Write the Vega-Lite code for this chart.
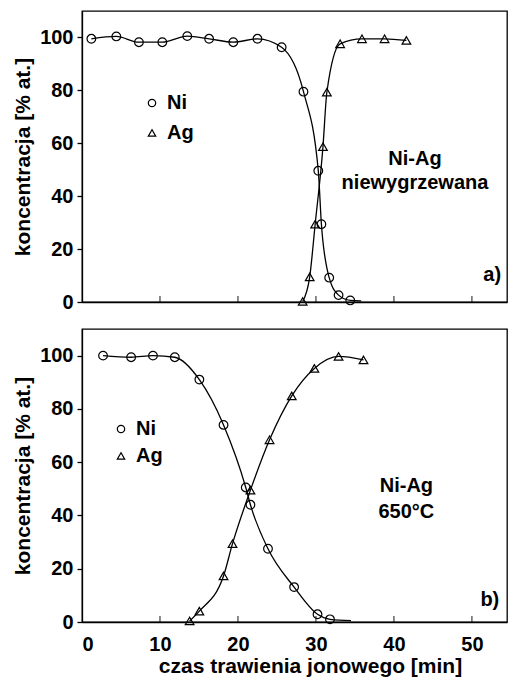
{
  "$schema": "https://vega.github.io/schema/vega-lite/v6.json",
  "padding": {"left": 11, "top": 10, "right": 0, "bottom": 0},
  "spacing": 15,
  "datasets": {
    "a": [
      {"el": "Ni", "t": 1.2, "c": 99.5, "m": 1},
      {"el": "Ni", "t": 4.4, "c": 100.4, "m": 1},
      {"el": "Ni", "t": 7.3, "c": 98.2, "m": 1},
      {"el": "Ni", "t": 10.3, "c": 98.2, "m": 1},
      {"el": "Ni", "t": 13.5, "c": 100.5, "m": 1},
      {"el": "Ni", "t": 16.3, "c": 99.5, "m": 1},
      {"el": "Ni", "t": 19.4, "c": 98.2, "m": 1},
      {"el": "Ni", "t": 22.5, "c": 99.5, "m": 1},
      {"el": "Ni", "t": 25.6, "c": 96.3, "m": 1},
      {"el": "Ni", "t": 28.4, "c": 79.5, "m": 1},
      {"el": "Ni", "t": 30.3, "c": 49.6, "m": 1},
      {"el": "Ni", "t": 30.7, "c": 29.4, "m": 1},
      {"el": "Ni", "t": 31.7, "c": 9.2, "m": 1},
      {"el": "Ni", "t": 32.9, "c": 2.6, "m": 1},
      {"el": "Ni", "t": 34.4, "c": 0.6, "m": 1},
      {"el": "Ni", "t": 35.8, "c": 0.4, "m": 0},
      {"el": "Ag", "t": 28.3, "c": 0.2, "m": 1},
      {"el": "Ag", "t": 29.2, "c": 9.5, "m": 1},
      {"el": "Ag", "t": 29.9, "c": 29.4, "m": 1},
      {"el": "Ag", "t": 30.9, "c": 58.7, "m": 1},
      {"el": "Ag", "t": 31.4, "c": 79.3, "m": 1},
      {"el": "Ag", "t": 33.1, "c": 97.6, "m": 1},
      {"el": "Ag", "t": 35.9, "c": 99.5, "m": 1},
      {"el": "Ag", "t": 38.8, "c": 99.5, "m": 1},
      {"el": "Ag", "t": 41.6, "c": 98.9, "m": 1}
    ],
    "b": [
      {"el": "Ni", "t": 2.7, "c": 100, "m": 1},
      {"el": "Ni", "t": 6.3, "c": 99.4, "m": 1},
      {"el": "Ni", "t": 9.1, "c": 100, "m": 1},
      {"el": "Ni", "t": 11.9, "c": 99.4, "m": 1},
      {"el": "Ni", "t": 15.05, "c": 91, "m": 1},
      {"el": "Ni", "t": 18.15, "c": 74, "m": 1},
      {"el": "Ni", "t": 21.0, "c": 50.5, "m": 1},
      {"el": "Ni", "t": 21.6, "c": 44, "m": 1},
      {"el": "Ni", "t": 23.85, "c": 27.5, "m": 1},
      {"el": "Ni", "t": 27.2, "c": 13.1, "m": 1},
      {"el": "Ni", "t": 30.2, "c": 2.9, "m": 1},
      {"el": "Ni", "t": 31.8, "c": 1.0, "m": 1},
      {"el": "Ni", "t": 34.5, "c": 0.5, "m": 0},
      {"el": "Ag", "t": 13.8, "c": 0.4, "m": 1},
      {"el": "Ag", "t": 15.05, "c": 4.1, "m": 1},
      {"el": "Ag", "t": 18.15, "c": 17.3, "m": 1},
      {"el": "Ag", "t": 19.3, "c": 29.4, "m": 1},
      {"el": "Ag", "t": 21.6, "c": 49.5, "m": 1},
      {"el": "Ag", "t": 24.05, "c": 68.4, "m": 1},
      {"el": "Ag", "t": 26.9, "c": 84.9, "m": 1},
      {"el": "Ag", "t": 29.8, "c": 95.2, "m": 1},
      {"el": "Ag", "t": 32.9, "c": 99.7, "m": 1},
      {"el": "Ag", "t": 36.1, "c": 98.4, "m": 1}
    ],
    "xticks": [{"t": 10}, {"t": 20}, {"t": 30}, {"t": 40}, {"t": 50}],
    "notesA": [
      {"t": 42.7, "c": 54.2, "label": "Ni-Ag"},
      {"t": 42.7, "c": 45.0, "label": "niewygrzewana"},
      {"t": 52.6, "c": 10.2, "label": "a)"}
    ],
    "notesB": [
      {"t": 41.6, "c": 51.0, "label": "Ni-Ag"},
      {"t": 41.6, "c": 41.2, "label": "650°C"},
      {"t": 52.3, "c": 8.2, "label": "b)"}
    ]
  },
  "vconcat": [
    {
      "width": 425,
      "height": 291,
      "layer": [
        {
          "data": {"name": "a"},
          "mark": {"type": "line", "color": "black", "strokeWidth": 1.3, "interpolate": "monotone"},
          "encoding": {
            "x": {"field": "t", "type": "quantitative", "scale": {"domain": [0, 54.5], "nice": false},
              "axis": {"labels": false, "title": null, "ticks": false, "grid": false}},
            "y": {"field": "c", "type": "quantitative", "scale": {"domain": [0, 110], "nice": false},
              "axis": {"title": "koncentracja [% at.]", "values": [0, 20, 40, 60, 80, 100], "grid": false, "tickSize": 5, "labelPadding": 4, "titlePadding": 6}},
            "detail": {"field": "el"}
          }
        },
        {
          "data": {"name": "xticks"},
          "mark": {"type": "tick", "orient": "vertical", "color": "black", "size": 6, "thickness": 1.3, "yOffset": -3},
          "encoding": {
            "x": {"field": "t", "type": "quantitative"},
            "y": {"datum": 0, "type": "quantitative"}
          }
        },
        {
          "data": {"name": "a"},
          "transform": [{"filter": "datum.m == 1"}],
          "mark": {"type": "point", "filled": false, "color": "black", "size": 75, "strokeWidth": 1.2, "opacity": 1},
          "encoding": {
            "x": {"field": "t", "type": "quantitative"},
            "y": {"field": "c", "type": "quantitative"},
            "shape": {"field": "el", "type": "nominal",
              "scale": {"domain": ["Ni", "Ag"], "range": ["circle", "triangle-up"]},
              "legend": {"orient": "none", "legendX": 60, "legendY": 82, "title": null, "padding": 0,
                "labelFontSize": 20, "labelFontWeight": "bold", "labelColor": "black", "labelOffset": 5,
                "symbolStrokeColor": "black", "symbolFillColor": "transparent", "symbolSize": 55, "symbolStrokeWidth": 1.2, "rowPadding": 10}}
          }
        },
        {
          "data": {"name": "notesA"},
          "mark": {"type": "text", "fontSize": 20, "fontWeight": "bold", "color": "black", "align": "center", "baseline": "middle"},
          "encoding": {
            "x": {"field": "t", "type": "quantitative"},
            "y": {"field": "c", "type": "quantitative"},
            "text": {"field": "label"}
          }
        }
      ]
    },
    {
      "width": 425,
      "height": 293,
      "layer": [
        {
          "data": {"name": "b"},
          "mark": {"type": "line", "color": "black", "strokeWidth": 1.3, "interpolate": "monotone"},
          "encoding": {
            "x": {"field": "t", "type": "quantitative", "scale": {"domain": [0, 54.5], "nice": false},
              "axis": {"title": "czas trawienia jonowego [min]", "ticks": false, "values": [0, 10, 20, 30, 40, 50], "grid": false, "labelPadding": 12, "titlePadding": 1, "titleX": 228, "titleFontSize": 21}},
            "y": {"field": "c", "type": "quantitative", "scale": {"domain": [0, 110], "nice": false},
              "axis": {"title": "koncentracja [% at.]", "values": [0, 20, 40, 60, 80, 100], "grid": false, "tickSize": 5, "labelPadding": 4, "titlePadding": 6}},
            "detail": {"field": "el"}
          }
        },
        {
          "data": {"name": "xticks"},
          "mark": {"type": "tick", "orient": "vertical", "color": "black", "size": 6, "thickness": 1.3, "yOffset": -3},
          "encoding": {
            "x": {"field": "t", "type": "quantitative"},
            "y": {"datum": 0, "type": "quantitative"}
          }
        },
        {
          "data": {"name": "b"},
          "transform": [{"filter": "datum.m == 1"}],
          "mark": {"type": "point", "filled": false, "color": "black", "size": 75, "strokeWidth": 1.2, "opacity": 1},
          "encoding": {
            "x": {"field": "t", "type": "quantitative"},
            "y": {"field": "c", "type": "quantitative"},
            "shape": {"field": "el", "type": "nominal",
              "scale": {"domain": ["Ni", "Ag"], "range": ["circle", "triangle-up"]},
              "legend": {"orient": "none", "legendX": 29, "legendY": 90, "title": null, "padding": 0,
                "labelFontSize": 20, "labelFontWeight": "bold", "labelColor": "black", "labelOffset": 5,
                "symbolStrokeColor": "black", "symbolFillColor": "transparent", "symbolSize": 55, "symbolStrokeWidth": 1.2, "rowPadding": 7}}
          }
        },
        {
          "data": {"name": "notesB"},
          "mark": {"type": "text", "fontSize": 20, "fontWeight": "bold", "color": "black", "align": "center", "baseline": "middle"},
          "encoding": {
            "x": {"field": "t", "type": "quantitative"},
            "y": {"field": "c", "type": "quantitative"},
            "text": {"field": "label"}
          }
        }
      ]
    }
  ],
  "resolve": {"scale": {"shape": "independent"}, "legend": {"shape": "independent"}},
  "config": {
    "font": "Liberation Sans",
    "background": "white",
    "view": {"stroke": "black", "strokeWidth": 1.3},
    "axis": {
      "labelFontSize": 20, "labelFontWeight": "bold", "labelColor": "black",
      "titleFontSize": 21, "titleFontWeight": "bold", "titleColor": "black",
      "domainColor": "black", "domainWidth": 1.3, "tickColor": "black", "tickWidth": 1.3
    }
  }
}
